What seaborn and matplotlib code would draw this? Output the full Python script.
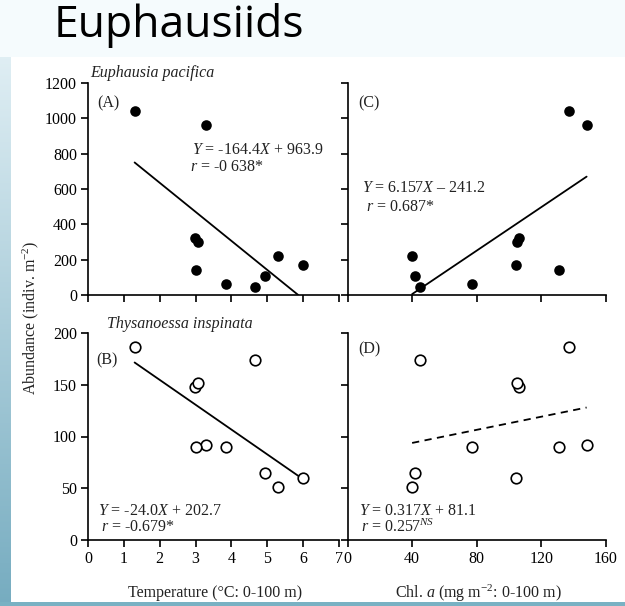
import numpy as np
import pandas as pd
import matplotlib
matplotlib.use("Agg")
import matplotlib.pyplot as plt
import seaborn as sns

# ---------------- data ----------------
temperature = [1.3, 3.3, 2.98, 3.07, 3.0, 3.85, 4.65, 4.95, 5.3, 6.0]
chl_a = [137, 148, 106, 105, 131, 77, 45, 42, 40, 104]
e_pacifica = [1040, 965, 320, 300, 140, 65, 45, 110, 220, 170]
t_inspinata = [186, 92, 148, 152, 90, 90, 174, 65, 51, 60]

# regression coefficients (slope, intercept)
fit_A = (-164.4, 963.9)
fit_B = (-24.0, 202.7)
fit_C = (6.157, -241.2)
fit_D = (0.317, 81.1)

eq_A = ["$Y$ = -164.4$X$ + 963.9", "$r$ = -0 638*"]
eq_B = ["$Y$ = -24.0$X$ + 202.7", "$r$ = -0.679*"]
eq_C = ["$Y$ = 6.157$X$ \u2013 241.2", "$r$ = 0.687*"]
eq_D = ["$Y$ = 0.317$X$ + 81.1", "$r$ = 0.257$^{NS}$"]

temp_ticks = [0, 1, 2, 3, 4, 5, 6, 7]
chl_ticks = [0, 40, 80, 120, 160]
top_yticks = [0, 200, 400, 600, 800, 1000, 1200]
bot_yticks = [0, 50, 100, 150, 200]

df = pd.DataFrame({"temp": temperature, "chl": chl_a,
                   "epac": e_pacifica, "tinsp": t_inspinata})

# ---------------- style ----------------
sns.set_theme(style="ticks")
plt.rcParams["font.family"] = ["Liberation Serif", "DejaVu Serif"]
plt.rcParams["mathtext.fontset"] = "custom"
plt.rcParams["mathtext.rm"] = "Liberation Serif"
plt.rcParams["mathtext.it"] = "Liberation Serif:italic"
plt.rcParams["mathtext.bf"] = "Liberation Serif:bold"

W, H = 625, 606
fig = plt.figure(figsize=(W / 100, H / 100), dpi=100)
fig.patch.set_facecolor("white")

# background (slide)
bg = fig.add_axes([0, 0, 1, 1], zorder=-10)
bg.set_xlim(0, W)
bg.set_ylim(H, 0)
bg.axis("off")
grad = np.linspace(0, 1, 256)[:, None]
c_top = np.array([234, 245, 249]) / 255
c_bot = np.array([118, 172, 192]) / 255
img = c_top[None, None, :] * (1 - grad[:, :, None]) + c_bot[None, None, :] * grad[:, :, None]
bg.imshow(img, extent=[0, 11, H, 0], aspect="auto")
bg.add_patch(plt.Rectangle((0, 0), W, 57, color="#f5fbfd", lw=0))
bg.add_patch(plt.Rectangle((0, 602), W, 4, color="#79b1c3", lw=0))
fig.text(54 / W, 1 - 37 / H, "Euphausiids", family=["Open Sans", "DejaVu Sans"],
         fontsize=32, va="baseline", ha="left", color="black")

def px_axes(x0, x1, y0, y1):
    return fig.add_axes([x0 / W, 1 - y1 / H, (x1 - x0) / W, (y1 - y0) / H])

axA = px_axes(88, 339, 83, 295)
axC = px_axes(347.5, 606, 83, 295)
axB = px_axes(88, 339, 333, 540)
axD = px_axes(347.5, 606, 333, 540)

fs = 11.5

def style(ax, xlim, xticks, ylim, yticks, showx, showy):
    ax.set_xlim(*xlim)
    ax.set_ylim(*ylim)
    ax.set_xticks(xticks)
    ax.set_yticks(yticks)
    for s in ["top", "right"]:
        ax.spines[s].set_visible(False)
    for s in ["left", "bottom"]:
        ax.spines[s].set_linewidth(1.2)
        ax.spines[s].set_color("black")
    ax.tick_params(direction="out", length=5, width=1.2, colors="black",
                   labelsize=fs, pad=3)
    if not showx:
        ax.set_xticklabels([])
    if not showy:
        ax.set_yticklabels([])
    ax.set_xlabel("")
    ax.set_ylabel("")
    ax.set_facecolor("none")

def fitline(ax, xdata, coef, dashed=False):
    m, b = coef
    x0 = min(xdata)
    x1 = max(xdata)
    if m < 0 and (m * x1 + b) < 0:
        x1 = -b / m
    if m > 0 and (m * x0 + b) < 0:
        x0 = -b / m
    xs = np.array([x0, x1])
    d = pd.DataFrame({"x": xs, "y": m * xs + b})
    sns.lineplot(data=d, x="x", y="y", ax=ax, color="black", lw=1.3,
                 linestyle=(0, (4, 3)) if dashed else "-")

# filled points
sns.scatterplot(data=df, x="temp", y="epac", ax=axA, color="black", s=58,
                edgecolor="black", linewidth=0, zorder=3)
sns.scatterplot(data=df, x="chl", y="epac", ax=axC, color="black", s=58,
                edgecolor="black", linewidth=0, zorder=3)
# open points
sns.scatterplot(data=df, x="temp", y="tinsp", ax=axB, facecolor="white", s=58,
                edgecolor="black", linewidth=1.2, zorder=3)
sns.scatterplot(data=df, x="chl", y="tinsp", ax=axD, facecolor="white", s=58,
                edgecolor="black", linewidth=1.2, zorder=3)

fitline(axA, temperature, fit_A)
fitline(axC, chl_a, fit_C)
fitline(axB, temperature, fit_B)
fitline(axD, chl_a, fit_D, dashed=True)

style(axA, (0, 7), temp_ticks, (0, 1200), top_yticks, False, True)
style(axC, (0, 160), chl_ticks, (0, 1200), top_yticks, False, False)
style(axB, (0, 7), temp_ticks, (0, 200), bot_yticks, True, True)
style(axD, (0, 160), chl_ticks, (0, 200), bot_yticks, True, False)

def t(ax, x, y, s, **kw):
    ax.text(x, y, s, transform=ax.transAxes, fontsize=fs, va="center",
            color="#222222", **kw)

t(axA, 0.255, 1.047, "Euphausia pacifica", ha="center", style="italic")
t(axB, 0.367, 1.043, "Thysanoessa inspinata", ha="center", style="italic")
t(axA, 0.035, 0.906, "(A)", ha="left")
t(axC, 0.04, 0.906, "(C)", ha="left")
t(axB, 0.033, 0.87, "(B)", ha="left")
t(axD, 0.04, 0.923, "(D)", ha="left")

t(axA, 0.414, 0.684, eq_A[0], ha="left")
t(axA, 0.406, 0.604, eq_A[1], ha="left")
t(axC, 0.058, 0.505, eq_C[0], ha="left")
t(axC, 0.072, 0.415, eq_C[1], ha="left")
t(axB, 0.04, 0.14, eq_B[0], ha="left")
t(axB, 0.052, 0.063, eq_B[1], ha="left")
t(axD, 0.044, 0.14, eq_D[0], ha="left")
t(axD, 0.052, 0.063, eq_D[1], ha="left")

fig.text(31 / W, 1 - 318 / H, "Abundance (indiv. m$^{-2}$)", rotation=90,
         ha="center", va="center", fontsize=fs, color="#222222")
fig.text(215 / W, 1 - 593 / H, "Temperature (\u00b0C: 0-100 m)",
         ha="center", va="center", fontsize=fs, color="#222222")
fig.text(478 / W, 1 - 593 / H, "Chl. $a$ (mg m$^{-2}$: 0-100 m)",
         ha="center", va="center", fontsize=fs, color="#222222")

fig.savefig("out.png", dpi=100, facecolor=fig.get_facecolor())
